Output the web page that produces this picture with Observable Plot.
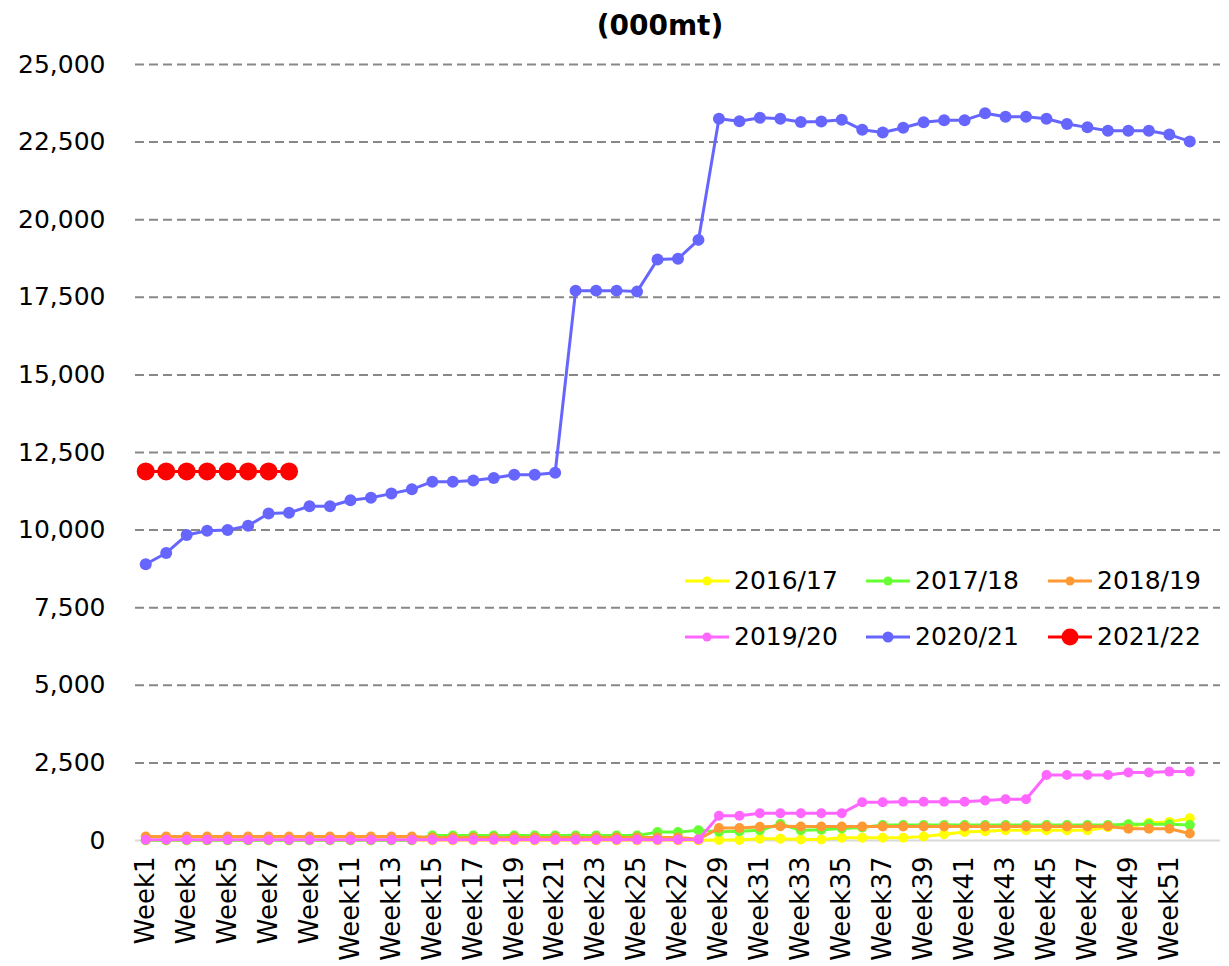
<!DOCTYPE html>
<html><head><meta charset="utf-8">
<script src="https://cdn.jsdelivr.net/npm/d3@7"></script>
<script src="https://cdn.jsdelivr.net/npm/@observablehq/plot@0.6"></script>
<style>
body{margin:0;background:#fff;font-family:"DejaVu Sans",Verdana,sans-serif;}
#wrap{position:relative;width:1229px;height:966px;}
#title{position:absolute;left:0;width:1320px;top:9px;text-align:center;font-weight:bold;font-size:28px;line-height:34px;color:#000;}
.leg{position:absolute;display:flex;align-items:center;font-size:25px;line-height:30px;color:#000;}
.leg svg{margin-right:5px;}
</style>
</head><body>
<div id="wrap"><div id="title">(000mt)</div></div>
<script>
const weeks = Array.from({length:53},(_, i)=>"Week"+(i+1));
const yTicks = [0,2500,5000,7500,10000,12500,15000,17500,20000,22500,25000];
const seasons = ["2016/17","2017/18","2018/19","2019/20","2020/21","2021/22"];
const colors = ["#FFFF00","#66FF33","#FF9933","#FF66FF","#6666FF","#FF0000"];

const v1617 = [5,5,5,5,5,5,5,5,5,5,5,5,5,5,5,5,5,5,5,5,5,5,5,5,5,5,5,5,
  20,20,55,55,35,35,90,90,90,90,130,200,275,300,330,330,330,330,330,430,430,570,600,720];
const v1718 = [10,10,10,10,10,10,10,10,10,10,10,10,10,10,160,160,160,160,160,160,160,160,160,160,160,270,270,330,
  280,300,330,530,330,350,385,420,500,500,500,500,500,500,500,500,500,500,500,500,520,520,520,500];
const v1819 = [130,130,130,130,130,130,130,130,130,130,130,130,130,130,100,100,100,100,100,100,100,100,100,100,100,100,100,40,
  400,400,440,460,450,450,450,450,450,450,450,450,450,450,450,450,450,450,450,460,380,380,380,225];
const v1920 = [25,25,25,25,25,25,25,25,25,25,25,25,25,25,25,25,25,25,25,25,25,25,25,25,25,25,25,30,
  800,800,880,880,880,880,880,1230,1230,1250,1250,1250,1250,1290,1330,1330,2110,2110,2110,2110,2190,2190,2220,2220];
const v2021 = [8900,9263,9840,9980,10000,10140,10535,10557,10770,10770,10960,11040,11176,11314,11560,11560,11600,11680,11785,11785,11850,
  17715,17715,17715,17683,18718,18740,19350,
  23251,23173,23284,23251,23151,23162,23218,22897,22809,22964,23140,23207,23207,23427,23317,23317,23251,23085,22975,22864,22864,22864,22743,22522];
const v2122 = [11890,11890,11890,11890,11890,11890,11890,11890];

const seriesValues = [v1617,v1718,v1819,v1920,v2021,v2122];
const dotR = [5,5,5,5,6,9];
const legR = [4.5,4.5,4.5,4.5,5.5,8.5];

const seriesMarks = [];
seriesValues.forEach((vals, k) => {
  const rows = vals.map((v, i) => ({week: weeks[i], value: v}));
  seriesMarks.push(Plot.line(rows, {x:"week", y:"value", stroke:colors[k], strokeWidth:3}));
  seriesMarks.push(Plot.dot(rows, {x:"week", y:"value", r:dotR[k], fill:colors[k], stroke:null}));
});

const chart = Plot.plot({
  width:1229, height:966,
  marginLeft:135, marginRight:9, marginTop:64, marginBottom:126,
  style:{fontFamily:"DejaVu Sans, Verdana, sans-serif", fontSize:"25px", background:"white", color:"#000", overflow:"visible"},
  x:{type:"point", domain:weeks, padding:0.5, round:false, label:null},
  y:{domain:[0,25000], label:null},
  marks:[
    Plot.ruleY(yTicks.filter(d => d > 0), {stroke:"#888", strokeWidth:2, strokeDasharray:"9,5"}),
    Plot.ruleY([0], {stroke:"#d9d9d9", strokeWidth:2}),
    Plot.axisY({ticks:yTicks, tickSize:0, tickPadding:30, tickFormat:d => d3.format(",")(d), label:null, fontSize:25}),
    Plot.axisX({ticks:weeks.filter((d,i) => i % 2 === 0 && i < 52), tickSize:0, tickPadding:16, tickRotate:-90, label:null, fontSize:26}),
    ...seriesMarks
  ]
});
const wrap = document.getElementById("wrap");
wrap.insertBefore(chart, wrap.firstChild);

// legend (inside plot area, two rows of three)
const legX = [685, 866, 1048];
const legY = [581, 637];
seasons.forEach((s, k) => {
  const d = document.createElement("div");
  d.className = "leg";
  d.style.left = legX[k % 3] + "px";
  d.style.top = (legY[Math.floor(k / 3)] - 15) + "px";
  d.innerHTML = `<svg width="44" height="30"><line x1="0" x2="44" y1="15" y2="15" stroke="${colors[k]}" stroke-width="3"/><circle cx="22" cy="15" r="${legR[k]}" fill="${colors[k]}"/></svg><span>${s}</span>`;
  wrap.appendChild(d);
});
</script>
</body></html>
